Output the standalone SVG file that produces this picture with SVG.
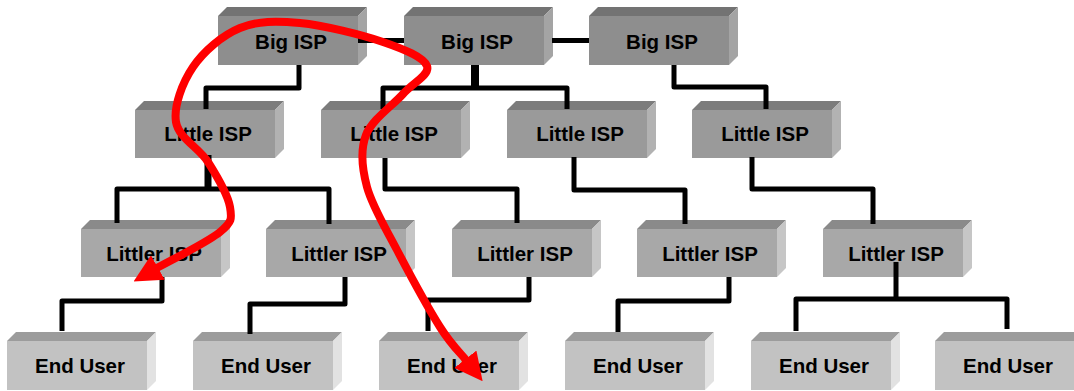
<svg xmlns="http://www.w3.org/2000/svg" xmlns:xlink="http://www.w3.org/1999/xlink" width="1074" height="391" viewBox="0 0 1074 391">
<style>
  .lbl { font-family: "Liberation Sans", Arial, sans-serif; font-weight: bold; font-size: 20.5px; fill: #000; text-anchor: middle; }
  .wire { fill: none; stroke: #000; stroke-width: 5; stroke-linejoin: round; stroke-linecap: butt; }
  .thick { fill: none; stroke: #000; stroke-width: 8; }
  .route { fill: none; stroke: #ff0000; stroke-width: 8; marker-start: url(#head); marker-end: url(#head); }
</style>
<defs>
  <marker id="head" markerUnits="userSpaceOnUse" viewBox="0 0 28 28" markerWidth="28" markerHeight="28" refX="1" refY="14" orient="auto-start-reverse">
    <path d="M0,0 L28,14 L0,28 Z" fill="#ff0000"/>
  </marker>
  <g id="boxBig">
    <polygon points="0,0 9,-9 149,-9 140,0" fill="#737373"/>
    <polygon points="140,0 149,-9 149,40 140,49" fill="#a4a4a4"/>
    <rect x="0" y="0" width="140" height="49" fill="#8e8e8e"/>
  </g>
  <g id="boxLittle">
    <polygon points="0,0 9,-9 149,-9 140,0" fill="#7c7c7c"/>
    <polygon points="140,0 149,-9 149,39 140,48" fill="#b2b2b2"/>
    <rect x="0" y="0" width="140" height="48" fill="#9a9a9a"/>
  </g>
  <g id="boxLittler">
    <polygon points="0,0 9,-9 149,-9 140,0" fill="#8a8a8a"/>
    <polygon points="140,0 149,-9 149,39 140,48" fill="#c6c6c6"/>
    <rect x="0" y="0" width="140" height="48" fill="#a8a8a8"/>
  </g>
  <g id="boxEnd">
    <polygon points="0,0 9,-9 149,-9 140,0" fill="#9c9c9c"/>
    <polygon points="140,0 149,-9 149,40 140,49" fill="#e2e2e2"/>
    <rect x="0" y="0" width="140" height="49" fill="#c2c2c2"/>
  </g>
</defs>
<rect x="0" y="0" width="1074" height="391" fill="#ffffff"/>

<g id="big1"><use xlink:href="#boxBig" x="218" y="16"/><text class="lbl" x="291" y="49">Big ISP</text></g>
<g id="big2"><use xlink:href="#boxBig" x="404" y="16"/><text class="lbl" x="477" y="49">Big ISP</text></g>
<g id="big3"><use xlink:href="#boxBig" x="589" y="16"/><text class="lbl" x="662" y="49">Big ISP</text></g>

<g id="little1"><use xlink:href="#boxLittle" x="135" y="110"/><text class="lbl" x="208" y="141">Little ISP</text></g>
<g id="little2"><use xlink:href="#boxLittle" x="321" y="110"/><text class="lbl" x="394" y="141">Little ISP</text></g>
<g id="little3"><use xlink:href="#boxLittle" x="507" y="110"/><text class="lbl" x="580" y="141">Little ISP</text></g>
<g id="little4"><use xlink:href="#boxLittle" x="692" y="110"/><text class="lbl" x="765" y="141">Little ISP</text></g>

<g id="littler1"><use xlink:href="#boxLittler" x="81" y="229"/><text class="lbl" x="154" y="261">Littler ISP</text></g>
<g id="littler2"><use xlink:href="#boxLittler" x="266" y="229"/><text class="lbl" x="339" y="261">Littler ISP</text></g>
<g id="littler3"><use xlink:href="#boxLittler" x="452" y="229"/><text class="lbl" x="525" y="261">Littler ISP</text></g>
<g id="littler4"><use xlink:href="#boxLittler" x="637" y="229"/><text class="lbl" x="710" y="261">Littler ISP</text></g>
<g id="littler5"><use xlink:href="#boxLittler" x="823" y="229"/><text class="lbl" x="896" y="261">Littler ISP</text></g>

<g id="end1"><use xlink:href="#boxEnd" x="7" y="341"/><text class="lbl" x="80" y="373">End User</text></g>
<g id="end2"><use xlink:href="#boxEnd" x="193" y="341"/><text class="lbl" x="266" y="373">End User</text></g>
<g id="end3"><use xlink:href="#boxEnd" x="379" y="341"/><text class="lbl" x="452" y="373">End User</text></g>
<g id="end4"><use xlink:href="#boxEnd" x="565" y="341"/><text class="lbl" x="638" y="373">End User</text></g>
<g id="end5"><use xlink:href="#boxEnd" x="751" y="341"/><text class="lbl" x="824" y="373">End User</text></g>
<g id="end6"><use xlink:href="#boxEnd" x="935" y="341"/><text class="lbl" x="1008" y="373">End User</text></g>

<g id="connectors">
  <path class="wire" d="M358,40.5 H404"/>
  <path class="wire" d="M552,40.5 H589"/>
  <path class="wire" d="M299,65 V88 H206 V109"/>
  <path class="thick" d="M475,65 V88"/>
  <path class="wire" d="M383,109 V88 H567 V109"/>
  <path class="wire" d="M674,65 V87 H766 V109"/>
  <path class="thick" d="M208,155 V189" style="stroke-width:7"/>
  <path class="wire" d="M117,223 V189 H329 V224"/>
  <path class="wire" d="M385,158 V189 H517 V223"/>
  <path class="wire" d="M574,157 V190 H685 V224"/>
  <path class="wire" d="M752,157 V189 H873 V224"/>
  <path class="wire" d="M162,277 V301 H62 V331"/>
  <path class="wire" d="M345,277 V304 H250 V334"/>
  <path class="wire" d="M529,277 V300 H428 V331"/>
  <path class="wire" d="M729,277 V301 H618 V332"/>
  <path class="wire" d="M896,262 V298"/>
  <path class="wire" d="M796,331 V299 H1007 V329"/>
</g>

<g id="route">
  <path class="route" d="M157,268 C167.5,262 207.8,242.2 220,232 C232.2,221.8 232,218.7 230,207 C228,195.3 217,176.2 208,162 C199,147.8 178.5,137.8 176,122 C173.5,106.2 182.3,82.7 193,67 C203.7,51.3 222.2,35.3 240,28 C257.8,20.7 276.2,20.7 300,23 C323.8,25.3 361.8,34.8 383,42 C404.2,49.2 423.7,57.3 427,66 C430.3,74.7 413.2,82.5 403,94 C392.8,105.5 372,119.5 366,135 C360,150.5 361.8,167.8 367,187 C372.2,206.2 384.8,226.7 397,250 C409.2,273.3 428.5,308.7 440,327 C451.5,345.3 461.7,354.5 466,360"/>
</g>
</svg>
